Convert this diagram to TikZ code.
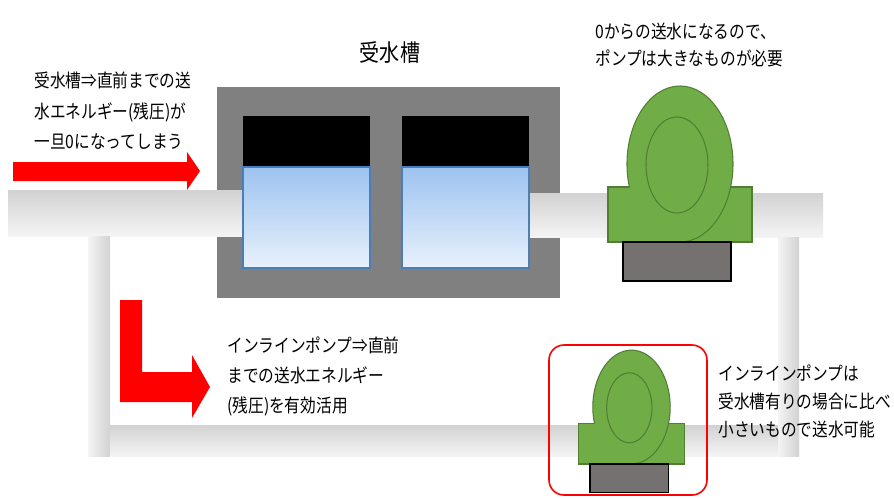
\documentclass[tikz,border=0pt]{standalone}
\usepackage{fontspec}
\setmainfont{Noto Sans CJK JP}[FakeStretch=0.85]
\usetikzlibrary{positioning}

\definecolor{pumpgreen}{HTML}{70AD47}
\definecolor{pumpedge}{HTML}{507E32}
\definecolor{basegray}{HTML}{767171}
\definecolor{tankgray}{HTML}{808080}
\definecolor{waterblue}{HTML}{9DC3F0}
\definecolor{waterlight}{HTML}{E8F1FC}
\definecolor{wateredge}{HTML}{4A7EBB}
\definecolor{pipedark}{HTML}{D2D2D2}
\definecolor{pipelight}{HTML}{F4F4F4}

\tikzset{
  hpipe/.style={top color=pipedark, bottom color=pipelight},
  vpipe/.style={left color=pipelight, right color=pipedark},
  water/.style={top color=waterblue, bottom color=waterlight, draw=wateredge, line width=0.6pt},
  redarrow/.style={fill=red},
  note/.style={align=left, inner sep=0pt, font=\fontsize{10.5}{17.2}\selectfont},
  pumpunit/.pic={
    % body, then the volute sitting on it, then the base
    \draw[pumpedge, fill=pumpgreen, line width=0.6pt] (-72,-55) rectangle (72,0);
    \fill[pumpgreen] (0,-78) ellipse [x radius=53, y radius=78];
    \draw[pumpedge, line width=0.6pt] (0,-78) ++(163:53 and 78)
      arc [start angle=163, end angle=450, x radius=53, y radius=78];
    \draw[pumpedge, line width=0.6pt] (-3,-77) ellipse [x radius=31, y radius=48];
    \draw[black, fill=basegray, line width=0.8pt] (-57,0) rectangle (51,39);
  }
}

\begin{document}
\begin{tikzpicture}[x=0.02cm, y=-0.02cm]
  \path[use as bounding box, fill=white] (0,0) rectangle (894,498);

  % tank frame
  \fill[tankgray] (217,87) rectangle (560,298);

  % piping
  \fill[hpipe] (8,190) rectangle (243,236);
  \fill[hpipe] (529,193) rectangle (823,237);
  \fill[vpipe] (88,236) rectangle (110,456);
  \fill[hpipe] (110,425) rectangle (799,456);
  \fill[vpipe] (778,237) rectangle (799,456);

  % two compartments: air gap above, water below
  \foreach \x in {243,402}
  {
    \fill[black] (\x,116) rectangle ++(127,51);
    \draw[water] (\x,167) rectangle ++(127,101);
  };

  \node[font=\fontsize{13.4}{15}\selectfont] (tanktitle) at (390,53) {受水槽};

  % pumps
  \pic (bigpump) at (680,242) {pumpunit};
  \draw[red, line width=0.9pt, rounded corners=0.3cm] (549,345) rectangle (707,495);
  \pic[scale=0.73] (inlinepump) at (631.5,464) {pumpunit};

  % arrows
  \fill[redarrow] (13,162) -- (187,162) -- (187,152) -- (200,171) -- (187,190)
    -- (187,181) -- (13,181) -- cycle;
  \fill[redarrow] (120,300) -- (142,300) -- (142,372) -- (192,372) -- (192,355)
    -- (210,387) -- (192,418) -- (192,402) -- (120,402) -- cycle;

  % notes
  \node[note, anchor=north west] (tanknote) at (34,72)
    {受水槽⇒直前までの送\\水エネルギー(残圧)が\\一旦0になってしまう};
  \node[note, anchor=north west, font=\fontsize{10.5}{15}\selectfont] (bignote) at (595,23)
    {0からの送水になるので、\\ポンプは大きなものが必要};
  \node[note, anchor=north west] (inlinenote) at (227,336)
    {インラインポンプ⇒直前\\までの送水エネルギー\\(残圧)を有効活用};
  \node[note, anchor=north west, font=\fontsize{10.5}{16.2}\selectfont] (smallnote) at (718,364)
    {インラインポンプは\\受水槽有りの場合に比べ\\小さいもので送水可能};
\end{tikzpicture}
\end{document}
